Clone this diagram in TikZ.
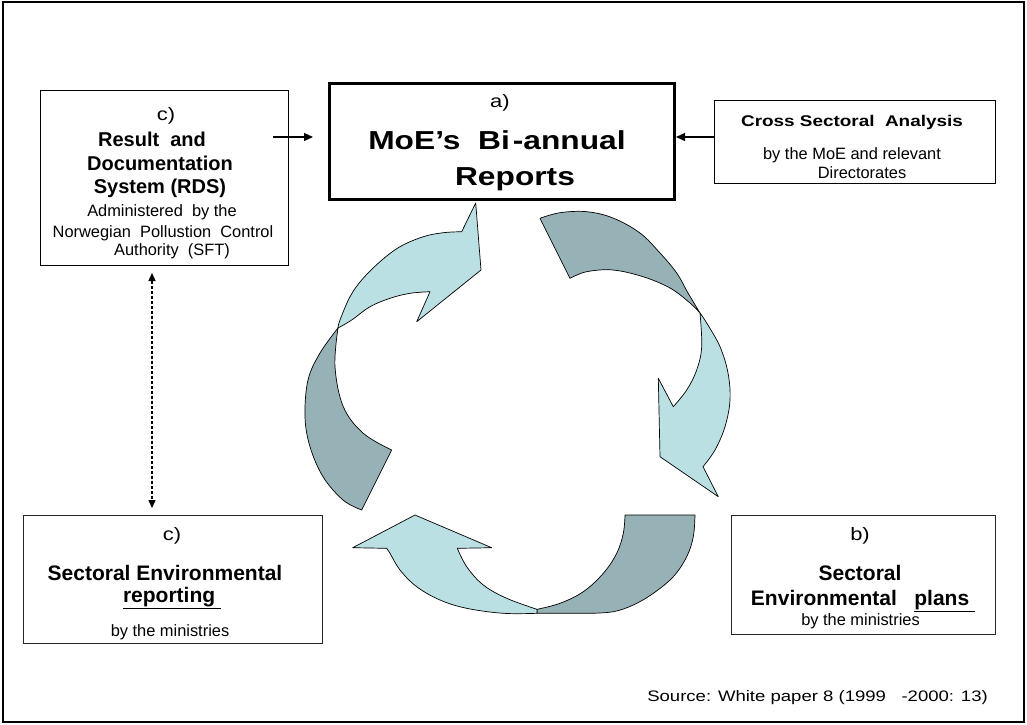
\documentclass[tikz,border=0pt]{standalone}
\usepackage{fontspec}
\setmainfont{Liberation Sans}
\newfontfamily\wideface[FakeStretch=1.22]{Liberation Sans}
\usetikzlibrary{arrows.meta}
\definecolor{lightarr}{RGB}{187,224,227}
\definecolor{darkarr}{RGB}{150,178,182}
\tikzset{
  box/.style={draw=black, line width=1pt, inner sep=0pt, anchor=north west},
  thickbox/.style={box, line width=3pt},
  txt/.style={anchor=base, inner sep=0pt},
  lbl/.style={txt, font=\wideface\fontsize{18}{21}\selectfont},
  bigtitle/.style={txt, font=\wideface\bfseries\fontsize{26}{30}\selectfont},
  crosstitle/.style={txt, font=\wideface\bfseries\fontsize{15.5}{18}\selectfont},
  boldtxt/.style={txt, font=\bfseries\fontsize{20}{23}\selectfont},
  boldbig/.style={txt, font=\bfseries\fontsize{21}{24}\selectfont},
  smalltxt/.style={txt, font=\fontsize{16.4}{19}\selectfont},
  srctxt/.style={anchor=base east, inner sep=0pt, font=\wideface\fontsize{15.2}{18}\selectfont},
  conn/.style={line width=1.3pt, -{Triangle[length=9pt,width=8pt]}},
  dashconn/.style={line width=1.5pt, dash pattern=on 3pt off 2pt,
    {Triangle[length=8pt,width=7pt]}-{Triangle[length=8pt,width=7pt]}},
  lightpart/.style={fill=lightarr, draw=black, line width=0.7pt, line join=round},
  darkpart/.style={fill=darkarr, draw=black, line width=0.7pt, line join=round}
}
\begin{document}
\begin{tikzpicture}[x=1pt,y=-1pt]
\useasboundingbox (0,0) rectangle (1027,724);
\draw[line width=2.5pt] (3,2) rectangle (1024,722);

% boxes
\node[thickbox, minimum width=345pt, minimum height=116pt] (moe) at (328,82) {};
\node[box, minimum width=248pt, minimum height=175pt] (rds) at (40,90) {};
\node[box, minimum width=281pt, minimum height=83pt] (cross) at (714,100) {};
\node[box, draw=black!85, line width=1.3pt, minimum width=299pt, minimum height=128pt] (rep) at (23,515) {};
\node[box, draw=black!85, line width=1.3pt, minimum width=264pt, minimum height=119pt] (plan) at (731,515) {};

% MoE text
\node[lbl] (ma) at (500,107) {a)};
\node[bigtitle] (mb) at (497,149.5) {MoE’s\ \ Bi\kern3pt-annual};
\node[bigtitle] (mc) at (515,185.5) {Reports};

% RDS text
\node[lbl] (ra) at (166,120) {c)};
\node[boldtxt] (rb) at (152,146.7) {Result\ \ and};
\node[boldtxt] (rc) at (160,170.7) {Documentation};
\node[boldtxt] (rd) at (160,193.5) {System (RDS)};
\node[smalltxt] (re) at (162,216.5) {Administered\ \ by the};
\node[smalltxt] (rf) at (163,237) {Norwegian\ \ Pollustion\ \ Control};
\node[smalltxt] (rg) at (172,255.5) {Authority\ \ (SFT)};

% Cross text
\node[crosstitle] (ca) at (852,126) {Cross Sectoral\ \ Analysis};
\node[smalltxt] (cb) at (852,159) {by the MoE and relevant};
\node[smalltxt] (cc) at (862,178) {Directorates};

% reporting box
\node[lbl] (pa) at (172,540) {c)};
\node[boldbig] (pb) at (165,580) {Sectoral Environmental};
\node[boldbig] (pc) at (172,602.7) {\underline{reporting\ }};
\node[smalltxt] (pd) at (170,636) {by the ministries};

% plans box
\node[lbl] (qa) at (860,540) {b)};
\node[boldbig] (qb) at (860,580) {Sectoral};
\node[boldbig] (qc) at (863,605) {Environmental\ \ \ \underline{plans\ }};
\node[smalltxt] (qd) at (860.5,625.7) {by the ministries};

% source
\node[srctxt] (src) at (988,701) {Source: White paper 8 (1999\ \ \ -2000: 13)};

% connectors
\coordinate (rdsout) at (273,137);
\coordinate (moein) at (313,137);
\draw[conn] (rdsout) -- (moein);
\draw[conn] (cross.west |- rdsout) -- (moe.east |- rdsout);
\coordinate (dtop) at (152,273);
\coordinate (dbot) at (152,508);
\draw[dashconn] (dtop) -- (dbot);

% cycle arrows: dark parts
\path[darkpart] plot[smooth, tension=0.6] coordinates {(338,328) (320,353) (308,380) (305,416.7) (310,446.7) (323,476.7) (343,500) (361.7,510)}
  -- (391.7,450)
  -- plot[smooth, tension=0.6] coordinates {(391.7,450) (363.3,433.3) (343.3,406.7) (335,366.7) (338,328)} -- cycle;
\path[darkpart] (540,218.3) -- (570,278.3)
  -- plot[smooth, tension=0.6] coordinates {(570,278.3) (586.7,271.7) (613,270) (643,276.7) (670,288) (690,303) (700,313)}
  -- plot[smooth, tension=0.6] coordinates {(700,313) (688,293) (676.7,273) (660,253) (640,233) (613,218) (586.7,211.7) (560,212.7) (540,218.3)} -- cycle;
\path[darkpart] (625,515) -- (695,515)
  -- plot[smooth, tension=0.6] coordinates {(695,515) (693.3,536.7) (686.7,556.7) (673.3,576.7) (653.3,593.3) (633.3,605) (613.3,611.7) (590,613.3)}
  -- (537,613.3) -- (537,609.3)
  -- plot[smooth, tension=0.6] coordinates {(537,609.3) (560,603.3) (583.3,591.7) (603.3,573.3) (616.7,553.3) (623.3,533.3) (625,515)} -- cycle;

% cycle arrows: light parts
\path[lightpart] plot[smooth, tension=0.6] coordinates {(338,328) (340,320) (350,296.7) (361.7,280) (380,261.7) (400,246.7) (423.3,236.7) (443.3,232.7) (461.7,231.7)}
  -- (475.7,203) -- (481,270) -- (416.7,321.7) -- (430,291.7)
  -- plot[smooth, tension=0.6] coordinates {(430,291.7) (410,293.3) (390,298.3) (370,306.7) (351.7,320) (338,328)} -- cycle;
\path[lightpart] plot[smooth, tension=0.6] coordinates {(700,313) (706.7,323) (720,346.7) (728,373) (730,400) (725,426.7) (715,450) (703,466.7)}
  -- (718.3,496.7) -- (660,456.7) -- (658.3,378.3) -- (673.3,406.7)
  -- plot[smooth, tension=0.6] coordinates {(673.3,406.7) (686.7,390) (696.7,370) (701.7,346.7) (700,313)} -- cycle;
\path[lightpart] (537,609.3) -- (537,613.3)
  -- plot[smooth, tension=0.6] coordinates {(537,613.3) (503.3,613.3) (466.7,608.3) (440,600) (416.7,586.7) (400,570) (390,553.3) (386.7,548.3)}
  -- (352.7,547.7) -- (415,515) -- (491.7,547.7) -- (457.3,548.3)
  -- plot[smooth, tension=0.6] coordinates {(457.3,548.3) (466.7,566.7) (483.3,585) (506.7,598.3) (537,609.3)} -- cycle;
\end{tikzpicture}
\end{document}
